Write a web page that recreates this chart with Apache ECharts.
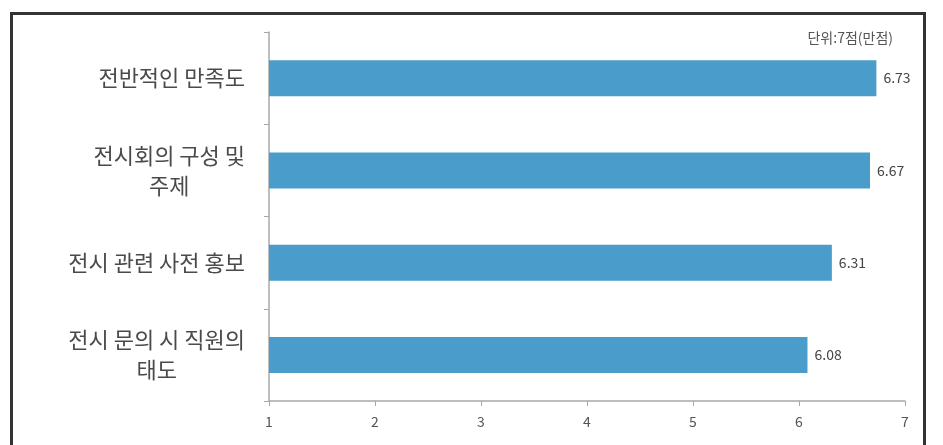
<!DOCTYPE html>
<html>
<head>
<meta charset="utf-8">
<script src="https://cdn.jsdelivr.net/npm/echarts@6/dist/echarts.min.js"></script>
<style>
  html, body { margin: 0; padding: 0; background: #ffffff; }
  #chart { width: 943px; height: 445px; }
</style>
</head>
<body>
<div id="chart"></div>
<script>
// Satisfaction items (top to bottom) and their scores on a 7-point scale
const categories = ['전반적인 만족도', '전시회의 구성 및\n주제', '전시 관련 사전 홍보', '전시 문의 시 직원의\n태도'];
const scores = [6.73, 6.67, 6.31, 6.08];
const axisMin = 1;
const axisMax = 7;
const unitNote = '단위:7점(만점)';

const FONT = '"Noto Sans CJK KR", "Noto Sans", sans-serif';
const chart = echarts.init(document.getElementById('chart'), null, { renderer: 'canvas' });

chart.setOption({
  backgroundColor: '#ffffff',
  animation: false,
  grid: { left: 269, right: 38, top: 32, bottom: 44, containLabel: false },
  xAxis: {
    type: 'value',
    min: axisMin,
    max: axisMax,
    interval: 1,
    splitLine: { show: false },
    axisLine: { show: true, lineStyle: { color: '#a8a8a8', width: 1.5 } },
    axisTick: { show: true, length: 5, lineStyle: { color: '#a8a8a8' } },
    axisLabel: { color: '#555', fontSize: 14, fontFamily: FONT, margin: 14 }
  },
  yAxis: {
    type: 'category',
    data: categories,
    inverse: true,
    axisLine: { show: true, lineStyle: { color: '#a8a8a8', width: 1.5 } },
    axisTick: { show: true, length: 5, lineStyle: { color: '#a8a8a8' } },
    axisLabel: {
      color: '#4a4a4a',
      fontSize: 22,
      fontFamily: FONT,
      margin: 24,
      align: 'right',
      lineHeight: 30,
      formatter: function (v) {
        return v.split('\n').map(function (l) { return '{c|' + l + '}'; }).join('\n');
      },
      rich: { c: { align: 'center', fontSize: 22, fontFamily: FONT, color: '#4a4a4a', lineHeight: 30 } }
    }
  },
  series: [{
    type: 'bar',
    data: scores,
    barWidth: 36,
    itemStyle: { color: '#4a9dcb' },
    label: {
      show: true,
      position: 'right',
      distance: 7,
      color: '#444',
      fontSize: 14,
      fontFamily: FONT,
      formatter: function (p) { return p.value.toFixed(2); }
    }
  }],
  graphic: [
    {
      type: 'rect',
      shape: { x: 11.5, y: 13.5, width: 913, height: 500 },
      style: { fill: 'none', stroke: '#333333', lineWidth: 3 },
      silent: true
    },
    {
      type: 'text',
      right: 50,
      top: 31,
      style: { text: unitNote, fill: '#555', fontSize: 14, fontFamily: FONT }
    }
  ]
});
</script>
</body>
</html>
